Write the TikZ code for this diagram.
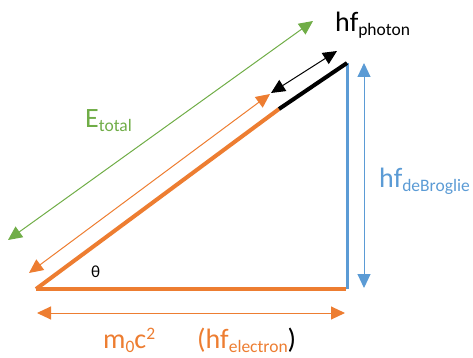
\documentclass[tikz,border=0pt]{standalone}
\usepackage{fontspec}
\setmainfont{Carlito}
\usepackage{xcolor}
\usetikzlibrary{arrows.meta}

\definecolor{wordgreen}{HTML}{70AD47}
\definecolor{wordorange}{HTML}{ED7D31}
\definecolor{wordblue}{HTML}{5B9BD5}

\newcommand{\lowsub}[1]{\raisebox{-4pt}{\fontsize{17.5}{18}\selectfont #1}}
\newcommand{\highsup}[1]{\raisebox{9pt}{\fontsize{17.5}{18}\selectfont #1}}

\begin{document}
\begin{tikzpicture}[
                x = 1pt, y = -1pt,
                lbl/.style = {
                    inner sep = 0pt,
                    anchor    = base west,
                    font      = \fontsize{28}{30}\selectfont
                },
                sidearrow/.style = {
                    {Triangle[length=14pt, width=13pt]}-{Triangle[length=14pt, width=13pt]},
                    line width = 1pt
                },
                legline/.style = {line cap = butt}
            ]

                \useasboundingbox (0, 0) rectangle (473, 358);

                % corners of the triangle
                \coordinate (origin) at (36, 289);
                \coordinate (base)   at (346, 289);
                \coordinate (apex)   at (347, 63);
                \coordinate (split)  at (279, 109);

                \draw[legline, wordorange, line width = 3.5pt] (origin) -- (base);
                \draw[legline, wordblue, line width = 3pt] (347, 289) -- (apex);
                \draw[legline, wordorange, line width = 4pt] (origin) -- (split);
                \draw[legline, black, line width = 4pt] (split) -- (apex);

                % arrow ends
                \coordinate (totalLo)  at (8, 240);
                \coordinate (totalHi)  at (313, 21);
                \coordinate (restLo)   at (29, 273);
                \coordinate (restHi)   at (270, 94);
                \coordinate (photonLo) at (271, 93);
                \coordinate (photonHi) at (337, 51);
                \coordinate (waveHi)   at (364, 63);
                \coordinate (waveLo)   at (364, 288);
                \coordinate (massL)    at (37, 313);
                \coordinate (massR)    at (345, 313);

                \draw[sidearrow, wordgreen] (totalLo) -- (totalHi);
                \draw[sidearrow, wordorange] (restLo) -- (restHi);
                \draw[sidearrow, black] (photonLo) -- (photonHi);
                \draw[sidearrow, wordblue] (waveHi) -- (waveLo);
                \draw[sidearrow, wordorange] (massL) -- (massR);

                \node[lbl] (photon) at (335, 32) {hf\lowsub{photon}};
                \node[lbl, text = wordgreen] (total) at (85, 128) {E\lowsub{total}};
                \node[lbl, text = wordblue] (debroglie) at (379, 187) {hf\lowsub{deBroglie}};
                \node[lbl, font = \fontsize{17}{18}\selectfont] (theta) at (91, 277) {θ};
                \node[lbl, text = wordorange] (mass) at (103, 348) {m\lowsub{0}c\highsup{2}};
                \node[lbl, text = wordorange] (electron) at (197, 348) {(hf\lowsub{electron}\textcolor{black}{)}};
            \end{tikzpicture}
\end{document}
